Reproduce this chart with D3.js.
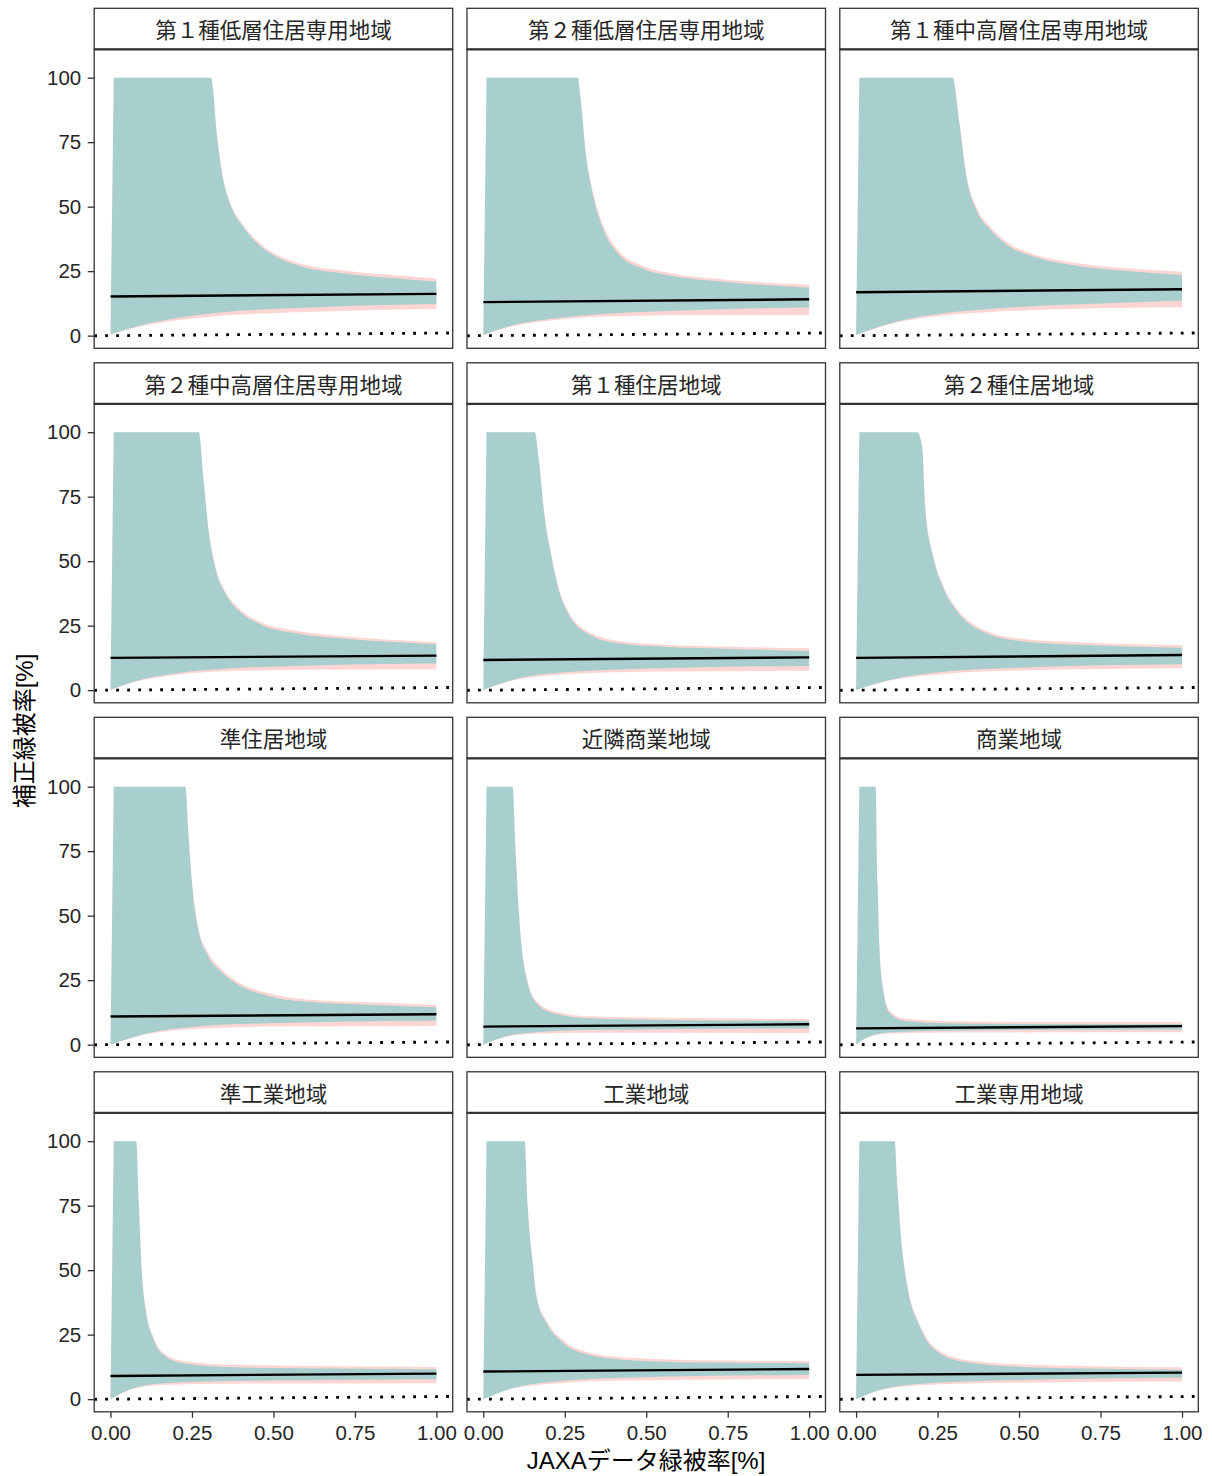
<!DOCTYPE html>
<html>
<head>
<meta charset="utf-8">
<script src="https://cdn.jsdelivr.net/npm/d3@7"></script>
<style>
  body { margin: 0; background: #fff; }
  text { font-family: "Liberation Sans", "Noto Sans CJK JP", sans-serif; }
</style>
</head>
<body>
<script>
// facet names
var panelNames = [
  "第１種低層住居専用地域", "第２種低層住居専用地域", "第１種中高層住居専用地域",
  "第２種中高層住居専用地域", "第１種住居地域", "第２種住居地域",
  "準住居地域", "近隣商業地域", "商業地域",
  "準工業地域", "工業地域", "工業専用地域"
];

// upper edge of the intervals (capped at 100)
var upperX = [
  [0.01, 0.308, 0.328, 0.346, 0.366, 0.407, 0.468, 0.509, 0.59, 0.712, 0.855, 1.0],
  [0.01, 0.29, 0.298, 0.313, 0.34, 0.369, 0.413, 0.487, 0.59, 0.737, 1.0],
  [0.01, 0.296, 0.317, 0.34, 0.369, 0.413, 0.472, 0.546, 0.663, 0.84, 1.0],
  [0.01, 0.271, 0.285, 0.30, 0.322, 0.355, 0.398, 0.464, 0.573, 0.705, 1.0],
  [0.01, 0.158, 0.171, 0.186, 0.208, 0.23, 0.263, 0.328, 0.416, 0.547, 0.766, 1.0],
  [0.01, 0.187, 0.202, 0.213, 0.235, 0.268, 0.311, 0.388, 0.498, 0.717, 1.0],
  [0.01, 0.23, 0.239, 0.25, 0.267, 0.30, 0.333, 0.376, 0.486, 0.595, 0.814, 1.0],
  [0.01, 0.09, 0.099, 0.11, 0.121, 0.136, 0.164, 0.219, 0.328, 0.547, 1.0],
  [0.01, 0.06, 0.066, 0.072, 0.083, 0.104, 0.147, 0.279, 0.498, 1.0],
  [0.01, 0.079, 0.087, 0.096, 0.109, 0.131, 0.157, 0.223, 0.376, 0.594, 1.0],
  [0.01, 0.127, 0.136, 0.149, 0.164, 0.197, 0.241, 0.306, 0.438, 0.656, 1.0],
  [0.01, 0.118, 0.127, 0.138, 0.16, 0.193, 0.236, 0.324, 0.499, 0.718, 1.0]
];
var upperCyan = [
  [100, 100, 76, 60.3, 51.4, 42.2, 33.9, 30.6, 26.7, 24.2, 22.4, 21.0],
  [100, 100, 92.6, 72, 52.6, 41, 31.9, 26.1, 22.9, 20.9, 18.6],
  [100, 100, 82.3, 60.3, 48.7, 41, 34.5, 30.6, 27.4, 25.0, 23.5],
  [100, 100, 82.1, 62.7, 47.2, 36.9, 30.4, 25.3, 22.0, 20.1, 17.8],
  [100, 100, 88.6, 69.2, 52.4, 39.5, 29.1, 21.4, 18.2, 16.9, 16.0, 15.2],
  [100, 100, 95, 69, 52.4, 39.5, 30.4, 22.7, 19.1, 17.5, 16.4],
  [100, 100, 82, 62.6, 45.8, 34.2, 29.0, 24.5, 18.9, 16.7, 15.4, 14.5],
  [100, 100, 75.5, 49.6, 34.1, 23.8, 16.0, 12.1, 10.2, 9.6, 9.2],
  [100, 100, 62.5, 36.7, 21.2, 12.1, 9.3, 8.3, 8.0, 7.9],
  [100, 100, 75.2, 49.4, 33.9, 23.6, 17.8, 13.9, 12.4, 12.0, 11.6],
  [100, 100, 75.3, 55.9, 39.1, 28.8, 22.3, 17.8, 15.2, 14.2, 13.9],
  [100, 100, 81.7, 62.3, 41.7, 28.8, 19.7, 14.6, 12.6, 11.9, 11.4]
];
var upperPink = [
  [100, 100, 76.5, 61, 52, 43, 34.8, 31.5, 27.7, 25.3, 23.6, 22.2],
  [100, 100, 93, 73, 54, 42.5, 33.2, 27.2, 23.9, 21.8, 19.7],
  [100, 100, 83, 61.5, 50, 42, 35.5, 31.5, 28.4, 26.0, 24.8],
  [100, 100, 82.5, 63.3, 48, 37.8, 31.3, 26.2, 22.9, 21.0, 18.6],
  [100, 100, 89, 70, 53.2, 40.3, 30, 22.3, 19.1, 17.7, 16.8, 16.2],
  [100, 100, 95.5, 70, 53.2, 40.3, 31.3, 23.6, 20.0, 18.4, 17.4],
  [100, 100, 82.5, 63.5, 47, 35.5, 30.2, 25.5, 19.9, 17.6, 16.3, 15.4],
  [100, 100, 76, 50.3, 34.8, 24.5, 16.8, 12.9, 11.0, 10.4, 10.0],
  [100, 100, 63, 37.5, 22, 13, 10.1, 9.1, 8.8, 8.8],
  [100, 100, 75.8, 50.2, 34.7, 24.4, 18.6, 14.8, 13.3, 12.9, 12.5],
  [100, 100, 75.8, 56.6, 40, 29.7, 23.2, 18.7, 16.1, 15.1, 14.8],
  [100, 100, 82.2, 63, 42.5, 29.6, 20.6, 15.5, 13.5, 12.8, 12.4]
];

// lower edge of the intervals
var lowerX = [
  [0, 0.06, 0.142, 0.244, 0.346, 0.549, 0.753, 1.0],
  [0, 0.075, 0.222, 0.369, 0.59, 0.81, 1.0],
  [0, 0.106, 0.253, 0.4, 0.62, 0.84, 1.0],
  [0, 0.07, 0.2, 0.376, 0.595, 1.0],
  [0, 0.11, 0.285, 0.547, 1.0],
  [0, 0.103, 0.279, 0.498, 1.0],
  [0, 0.114, 0.267, 0.486, 1.0],
  [0, 0.066, 0.153, 0.328, 1.0],
  [0, 0.038, 0.103, 0.279, 1.0],
  [0, 0.07, 0.157, 0.376, 1.0],
  [0, 0.088, 0.219, 0.438, 1.0],
  [0, 0.083, 0.214, 0.499, 1.0]
];
var lowerCyan = [
  [0.5, 2.9, 5.4, 7.6, 9.1, 10.6, 11.6, 12.3],
  [0.3, 3.5, 6.7, 8.4, 9.7, 10.5, 10.9],
  [0.3, 4.8, 8.4, 10.2, 11.9, 12.9, 13.6],
  [0.1, 3.3, 6.5, 8.5, 9.5, 10.3],
  [0.1, 4.6, 7.2, 8.5, 9.4],
  [0.1, 3.9, 7.2, 8.7, 10.0],
  [0, 4.4, 7.0, 8.3, 9.3],
  [0, 3.1, 4.7, 5.7, 6.3],
  [0, 3.1, 4.7, 5.4, 5.9],
  [0, 4.2, 6.1, 7.0, 7.7],
  [0, 4.2, 6.8, 8.3, 9.4],
  [0, 3.9, 6.1, 7.4, 8.3]
];
var lowerPink = [
  [0.3, 2.6, 4.8, 6.6, 7.8, 9.0, 9.8, 10.3],
  [0.2, 3.2, 6.1, 7.4, 7.9, 8.0, 8.0],
  [0.2, 4.5, 7.6, 9.1, 10.2, 10.8, 10.9],
  [0.1, 3.1, 5.9, 7.4, 7.9, 8.1],
  [0.1, 4.3, 6.4, 7.2, 7.5],
  [0.1, 3.7, 6.4, 7.6, 8.5],
  [0, 4.1, 6.2, 7.0, 7.2],
  [0, 2.9, 4.2, 4.6, 4.5],
  [0, 2.9, 4.3, 4.7, 4.8],
  [0, 4.0, 5.5, 6.0, 6.2],
  [0, 4.0, 6.1, 7.2, 7.8],
  [0, 3.7, 5.5, 6.4, 6.8]
];

// fitted line at x = 0 and x = 1
var fitStart = [15.2, 13.0, 16.8, 12.5, 11.7, 12.5, 10.9, 7.0, 6.3, 9.0, 10.7, 9.4];
var fitEnd   = [16.2, 14.1, 18.0, 13.4, 12.7, 13.6, 11.8, 7.9, 7.2, 9.9, 11.7, 10.3];

var xTicks = [0, 0.25, 0.5, 0.75, 1];
var yTicks = [0, 25, 50, 75, 100];

var colLeft = [94.2, 467, 839.8];
var rowTop = [8.3, 362.8, 717.3, 1071.8];
var panelW = 358.5, panelH = 299, stripH = 41;

var svg = d3.select("body").append("svg")
  .attr("width", 1212).attr("height", 1476);

var x = d3.scaleLinear().domain([-0.05, 1.05]).range([0, panelW]);
var y = d3.scaleLinear().domain([-4.9, 111]).range([panelH, 0]);

var line = d3.line().curve(d3.curveMonotoneX);

function ribbonPath(ux, uy, lx, ly) {
  var up = ux.map(function(v, i) { return [x(v), y(uy[i])]; });
  var lo = lx.map(function(v, i) { return [x(v), y(ly[i])]; }).reverse();
  return line(up) + line(lo).replace(/^M/, "L") + "Z";
}

panelNames.forEach(function(name, i) {
  var col = i % 3, row = Math.floor(i / 3);
  var g = svg.append("g")
    .attr("transform", "translate(" + colLeft[col] + "," + (rowTop[row] + stripH) + ")");

  g.append("clipPath").attr("id", "clip" + i)
    .append("rect").attr("width", panelW).attr("height", panelH);

  var body = g.append("g").attr("clip-path", "url(#clip" + i + ")");

  body.append("path")
    .attr("d", ribbonPath(upperX[i], upperPink[i], lowerX[i], lowerPink[i]))
    .attr("fill", "#F8766D").attr("fill-opacity", 0.3);
  body.append("path")
    .attr("d", ribbonPath(upperX[i], upperCyan[i], lowerX[i], lowerCyan[i]))
    .attr("fill", "#00BFC4").attr("fill-opacity", 0.33);

  body.append("path")
    .attr("d", d3.line()([[x(0), y(fitStart[i])], [x(1), y(fitEnd[i])]]))
    .attr("stroke", "#000").attr("stroke-width", 2.4).attr("fill", "none");

  body.append("path")
    .attr("d", d3.line()([[x(-0.05), y(-0.05)], [x(1.05), y(1.05)]]))
    .attr("stroke", "#000").attr("stroke-width", 2.8)
    .attr("stroke-dasharray", "2.8 8.2").attr("fill", "none");

  g.append("rect").attr("width", panelW).attr("height", panelH)
    .attr("fill", "none").attr("stroke", "#333").attr("stroke-width", 1.3);

  // strip
  var s = svg.append("g")
    .attr("transform", "translate(" + colLeft[col] + "," + rowTop[row] + ")");
  s.append("rect").attr("width", panelW).attr("height", stripH)
    .attr("fill", "#fff").attr("stroke", "#333").attr("stroke-width", 1.3);
  s.append("line").attr("x1", 0).attr("x2", panelW).attr("y1", stripH).attr("y2", stripH)
    .attr("stroke", "#333").attr("stroke-width", 2.2);
  s.append("text").attr("x", panelW / 2).attr("y", stripH / 2)
    .attr("text-anchor", "middle").attr("dominant-baseline", "central")
    .attr("font-size", 21.5).attr("fill", "#262626")
    .style("font-family", "'Noto Sans CJK JP', sans-serif")
    .text(name);

  if (col === 0) {
    var ya = g.append("g").call(d3.axisLeft(y).tickValues(yTicks).tickSize(6.5).tickPadding(6.5));
    ya.select(".domain").remove();
    ya.selectAll("line").attr("stroke", "#333").attr("stroke-width", 1.3);
    ya.selectAll("text").attr("font-size", 20.5).attr("fill", "#262626")
      .style("font-family", "'Liberation Sans', sans-serif");
  }
  if (row === 3) {
    var xa = g.append("g").attr("transform", "translate(0," + panelH + ")")
      .call(d3.axisBottom(x).tickValues(xTicks).tickFormat(d3.format(".2f")).tickSize(6).tickPadding(8));
    xa.select(".domain").remove();
    xa.selectAll("line").attr("stroke", "#333").attr("stroke-width", 1.3);
    xa.selectAll("text").attr("font-size", 20.5).attr("fill", "#262626")
      .style("font-family", "'Liberation Sans', sans-serif");
  }
});

svg.append("text")
  .attr("x", 646).attr("y", 1469)
  .attr("text-anchor", "middle").attr("font-size", 24).attr("fill", "#000")
  .text("JAXAデータ緑被率[%]");

svg.append("text")
  .attr("transform", "translate(33,731) rotate(-90)")
  .attr("text-anchor", "middle").attr("font-size", 24).attr("fill", "#000")
  .text("補正緑被率[%]");
</script>
</body>
</html>
